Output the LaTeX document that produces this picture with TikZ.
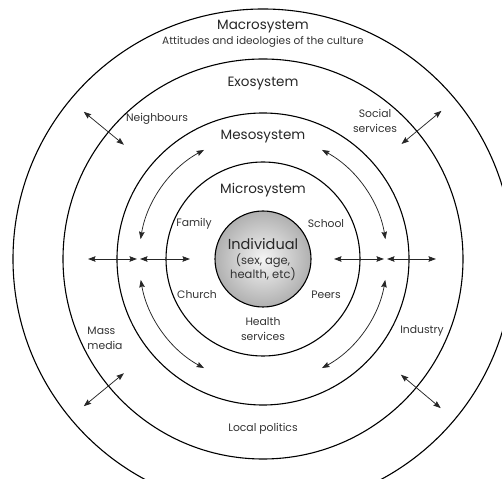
\documentclass[tikz,border=0pt]{standalone}
\usepackage{fontspec}
\setmainfont{Poppins}
\usetikzlibrary{arrows.meta}
\begin{document}
\begin{tikzpicture}[x=1pt,y=1pt,
  ring/.style={circle, draw=black, line width=1.1pt, inner sep=0pt},
  dbl/.style={{Stealth[length=7.5pt,width=5.5pt,inset=1pt]}-{Stealth[length=7.5pt,width=5.5pt,inset=1pt]}, line width=0.75pt, draw=black!85},
  big/.style={font=\fontsize{13.5}{15}\selectfont, text=black!85},
  lbl/.style={font=\fontsize{10.8}{15}\selectfont, align=center, text=black!80, inner sep=0pt},
]
\useasboundingbox (-263,-219) rectangle (239,259);
\clip (-263,-219) rectangle (239,259);
\coordinate (c) at (0,0);
% rings
\node[ring, minimum size=500pt] (macro) at (c) {};
\node[ring, minimum size=400pt] (exo) at (c) {};
\node[ring, minimum size=292pt] (meso) at (c) {};
\node[ring, minimum size=194pt] (micro) at (c) {};
\node[ring, minimum size=96pt, inner color=gray!8, outer color=gray!62] (ind) at (c) {};
% titles
\node[big] (tmacro) at (0,232) {Macrosystem};
\node[lbl, font=\fontsize{10.6}{12}\selectfont] (tatt) at (0,217) {Attitudes and ideologies of the culture};
\node[big] (texo) at (0,175) {Exosystem};
\node[big] (tmeso) at (0,122) {Mesosystem};
\node[big] (tmicro) at (0,69) {Microsystem};
\node[font=\fontsize{14.5}{16}\selectfont, text=black!85, inner sep=0pt] (tind) at (0,15) {Individual};
\node[lbl, font=\fontsize{11.5}{14}\selectfont] (tindsub) at (0,-8) {(sex, age,\\health, etc)};
% labels
\node[lbl] (neigh) at (-106,140) {Neighbours};
\node[lbl] (social) at (112,138) {Social\\services};
\node[lbl] (family) at (-69,35) {Family};
\node[lbl] (school) at (63,35) {School};
\node[lbl] (church) at (-66,-36) {Church};
\node[lbl] (peers) at (63,-36) {Peers};
\node[lbl] (health) at (0,-70.5) {Health\\services};
\node[lbl, align=left] (mass) at (-158,-79) {Mass\\media};
\node[lbl] (industry) at (159,-72) {Industry};
\node[lbl] (politics) at (0,-170) {Local politics};
% horizontal arrows
\coordinate (hl1) at (-175,0); \coordinate (hl2) at (-126,0);
\coordinate (hl3) at (-123,0); \coordinate (hl4) at (-73,0);
\coordinate (hr1) at (71,0);  \coordinate (hr2) at (121,0);
\coordinate (hr3) at (124,0); \coordinate (hr4) at (173,0);
\draw[dbl] (hl1) -- (hl2);
\draw[dbl] (hl3) -- (hl4);
\draw[dbl] (hr1) -- (hr2);
\draw[dbl] (hr3) -- (hr4);
% curved arrows in the mesosystem band
\coordinate (aul) at (118.4:124);
\coordinate (aur) at (61.6:124);
\coordinate (all) at (189.7:124);
\coordinate (alr) at (-9.7:124);
\draw[dbl] (aul) arc[start angle=118.4, end angle=170.8, radius=124];
\draw[dbl] (aur) arc[start angle=61.6, end angle=9.2, radius=124];
\draw[dbl] (all) arc[start angle=189.7, end angle=241.6, radius=124];
\draw[dbl] (alr) arc[start angle=-9.7, end angle=-61.6, radius=124];
% radial arrows across exosystem ring
\foreach \a/\n in {140.6/ul, 39.7/ur, 219.4/ll, -40/lr}{
  \coordinate (d\n1) at (\a:180);
  \coordinate (d\n2) at (\a:232);
  \draw[dbl] (d\n1) -- (d\n2);
}
\end{tikzpicture}
\end{document}
